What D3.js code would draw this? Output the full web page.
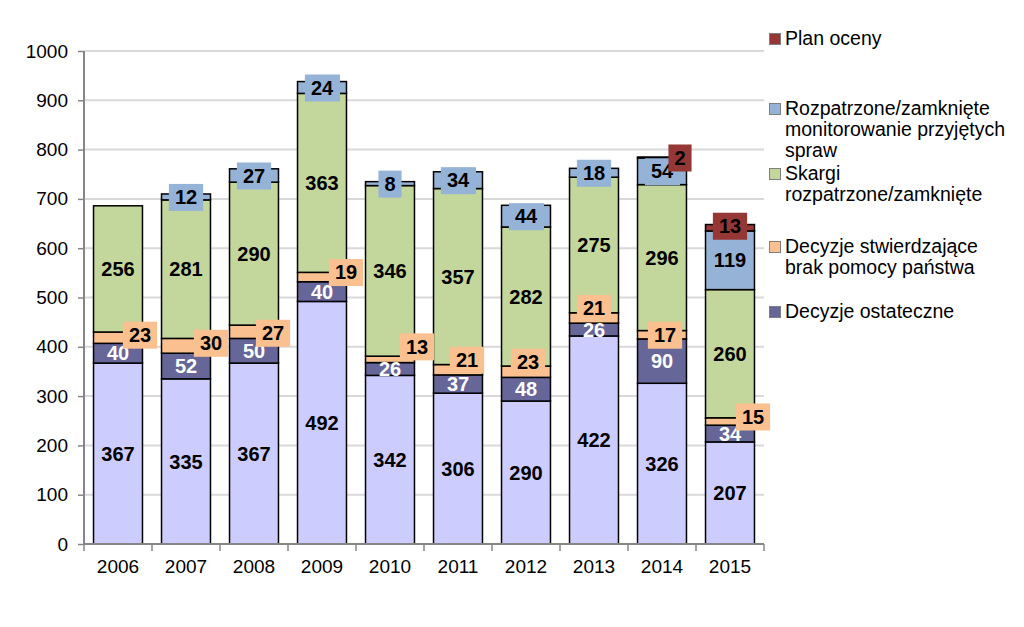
<!DOCTYPE html>
<html><head><meta charset="utf-8">
<script src="https://cdn.jsdelivr.net/npm/d3@7"></script>
<style>body{margin:0;background:#fff}svg{display:block;font-family:"Liberation Sans",Arial,sans-serif}</style>
</head><body><svg id="c" width="1024" height="627"></svg>
<script>
const years = ["2006","2007","2008","2009","2010","2011","2012","2013","2014","2015"];
const podstawa = [367,335,367,492,342,306,290,422,326,207];
const decyzjeOstateczne = [40,52,50,40,26,37,48,26,90,34];
const decyzjeBrak = [23,30,27,19,13,21,23,21,17,15];
const skargi = [256,281,290,363,346,357,282,275,296,260];
const monitorowanie = [0,12,27,24,8,34,44,18,54,119];
const planOceny = [0,0,0,0,0,0,0,0,2,13];
const yTicks = [0,100,200,300,400,500,600,700,800,900,1000];

// label nudges (pixels) for manually placed labels
const brakDx = [22,25,19,24,27,9,2,0,3,23];
const brakDy = [-3,-3,1,-5,-13,-10,-10,-10,0,-5];
const planDx = [0,0,0,0,0,0,0,0,18,0];
const planDy = [0,0,0,0,0,0,0,0,0,-2];

const series = [
  {key:"podstawa", values:podstawa, color:"#CCCCFF", text:"#000", box:null},
  {key:"ost", values:decyzjeOstateczne, color:"#666699", text:"#fff", box:null},
  {key:"brak", values:decyzjeBrak, color:"#FAC090", text:"#000", box:"#FAC090", dx:brakDx, dy:brakDy},
  {key:"skargi", values:skargi, color:"#C3D69B", text:"#000", box:null},
  {key:"mon", values:monitorowanie, color:"#95B3D7", text:"#000", box:"#95B3D7"},
  {key:"plan", values:planOceny, color:"#953735", text:"#000", box:"#953735", dx:planDx, dy:planDy}
];
const legendItems = [
  {color:"#953735", lines:["Plan oceny"], y:45},
  {color:"#95B3D7", lines:["Rozpatrzone/zamknięte","monitorowanie przyjętych","spraw"], y:115},
  {color:"#C3D69B", lines:["Skargi","rozpatrzone/zamknięte"], y:180},
  {color:"#FAC090", lines:["Decyzje stwierdzające","brak pomocy państwa"], y:253},
  {color:"#666699", lines:["Decyzje ostateczne"], y:318}
];

const svg = d3.select("#c");
const L=84, R=764, T=51, B=544;
const x = d3.scaleBand().domain(years).range([L,R]).paddingInner(0.28).paddingOuter(0.14);
const y = d3.scaleLinear().domain([0,1000]).range([B,T]);

// gridlines
svg.append("g").selectAll("line").data(yTicks.filter(d=>d>0)).join("line")
  .attr("x1",L).attr("x2",R).attr("y1",d=>y(d)).attr("y2",d=>y(d))
  .attr("stroke","#D9D9D9").attr("stroke-width",2);

// stacked data
const table = years.map((yr,i)=>{const o={year:yr}; series.forEach(s=>o[s.key]=s.values[i]); return o;});
const stack = d3.stack().keys(series.map(s=>s.key))(table);

const gBars = svg.append("g");
stack.forEach((layer,si)=>{
  const s = series[si];
  gBars.selectAll(null).data(layer.filter(d=>d[1]-d[0]>0)).join("rect")
    .attr("x",d=>x(d.data.year)).attr("width",x.bandwidth())
    .attr("y",d=>y(d[1])).attr("height",d=>y(d[0])-y(d[1]))
    .attr("fill",s.color).attr("stroke","#000").attr("stroke-width",1.5);
});

// axes
const yAxis = svg.append("g").attr("transform",`translate(${L},0)`)
  .call(d3.axisLeft(y).tickValues(yTicks).tickSize(6).tickPadding(10).tickFormat(d3.format("d")));
yAxis.select(".domain").attr("stroke","#868686").attr("stroke-width",2).attr("d",`M0,${T}V${B}`);
yAxis.selectAll(".tick line").attr("stroke","#868686").attr("stroke-width",1.5);
yAxis.selectAll(".tick text").attr("font-size",19).attr("fill","#000").attr("font-family","Liberation Sans, Arial, sans-serif");

const xAxis = svg.append("g").attr("transform",`translate(0,${B})`)
  .call(d3.axisBottom(x).tickSize(0).tickPadding(16));
xAxis.select(".domain").attr("stroke","#868686").attr("stroke-width",2).attr("d",`M${L},0H${R}`);
xAxis.selectAll(".tick text").attr("font-size",19).attr("fill","#000").attr("font-family","Liberation Sans, Arial, sans-serif");
const step = x.step();
xAxis.append("g").selectAll("line").data(d3.range(years.length+1)).join("line")
  .attr("x1",i=>L+i*step).attr("x2",i=>L+i*step).attr("y1",0).attr("y2",7)
  .attr("stroke","#868686").attr("stroke-width",1.5);

// labels
const gLab = svg.append("g");
stack.forEach((layer,si)=>{
  const s = series[si];
  layer.forEach((d,i)=>{
    const v = d[1]-d[0];
    if(v<=0) return;
    const cx = x(d.data.year)+x.bandwidth()/2 + (s.dx?s.dx[i]:0);
    const cy = (y(d[0])+y(d[1]))/2 + (s.dy?s.dy[i]:0);
    const g = gLab.append("g");
    const t = g.append("text").attr("x",cx).attr("y",cy).attr("dy","0.36em")
      .attr("text-anchor","middle").attr("font-size",20).attr("font-weight","bold")
      .attr("fill",s.text).text(v);
    if(s.box){
      const bb = t.node().getBBox();
      g.insert("rect","text").attr("x",bb.x-6).attr("width",bb.width+12)
        .attr("y",cy-13).attr("height",27).attr("fill",s.box);
    }
  });
});

// legend
const gLeg = svg.append("g");
legendItems.forEach(it=>{
  gLeg.append("rect").attr("x",769.5).attr("y",it.y-11.5).attr("width",11).attr("height",11)
    .attr("fill",it.color).attr("stroke","#7f7f7f").attr("stroke-width",1);
  const t = gLeg.append("text").attr("x",785).attr("y",it.y).attr("font-size",19.5).attr("fill","#000");
  it.lines.forEach((ln,k)=>t.append("tspan").attr("x",785).attr("dy",k?21:0).text(ln));
});
</script></body></html>
